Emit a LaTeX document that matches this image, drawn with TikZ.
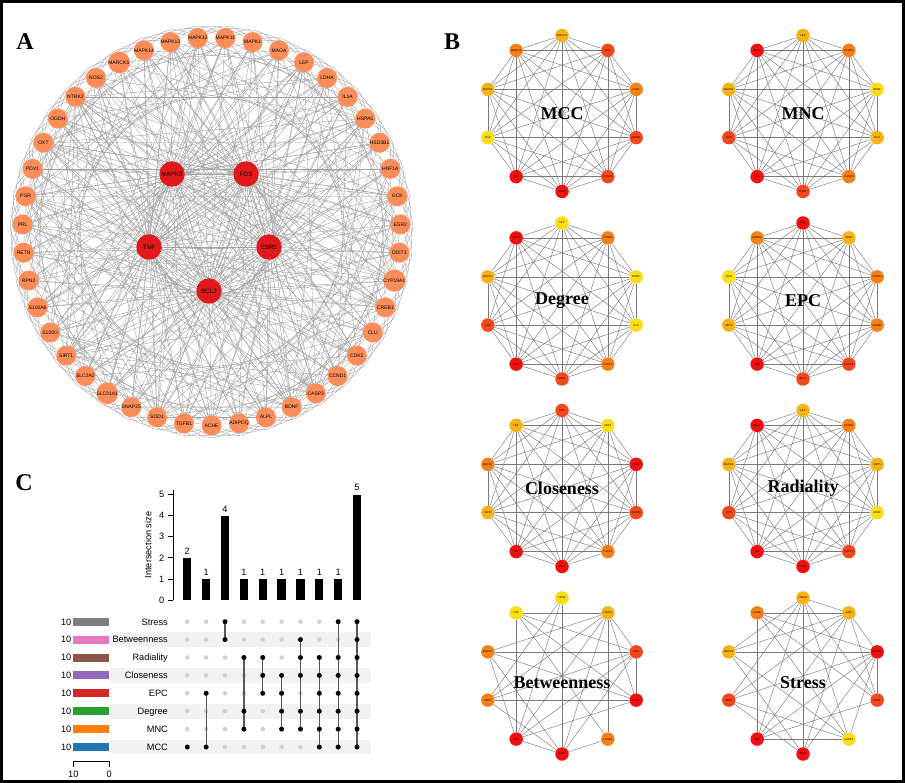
\documentclass[tikz,border=0pt]{standalone}
\usepackage{fontspec}
\setmainfont{Liberation Serif}
\setsansfont{Liberation Sans}
\usetikzlibrary{backgrounds}

\definecolor{geneorange}{RGB}{252,141,89}
\definecolor{hubred}{RGB}{224,26,28}
\definecolor{rankA}{RGB}{240,16,16}
\definecolor{rankB}{RGB}{242,72,28}
\definecolor{rankC}{RGB}{245,128,24}
\definecolor{rankD}{RGB}{247,178,22}
\definecolor{rankE}{RGB}{250,222,20}
\definecolor{tabblue}{RGB}{31,119,180}
\definecolor{taborange}{RGB}{255,127,14}
\definecolor{tabgreen}{RGB}{44,160,44}
\definecolor{tabred}{RGB}{214,39,40}
\definecolor{tabpurple}{RGB}{148,103,189}
\definecolor{tabbrown}{RGB}{140,86,75}
\definecolor{tabpink}{RGB}{227,119,194}
\definecolor{tabgray}{RGB}{127,127,127}

\begin{document}
\begin{tikzpicture}
[x=1pt,y=-1pt,
  linedecorate/.style={-,line width=0.38pt,draw=black!36},%
  genedecorate/.style={shape=circle,fill=geneorange,minimum size=20pt,inner sep=0pt,font=\sffamily\fontsize{5}{5}\selectfont},%
  hubdecorate/.style={shape=circle,fill=hubred,minimum size=25.5pt,inner sep=0pt,font=\sffamily\fontsize{6.3}{6.3}\selectfont},%
  rankdecorate/.style={shape=circle,minimum size=13.5pt,inner sep=0pt,font=\sffamily\fontsize{2.7}{2.7}\selectfont},%
  ranklinedecorate/.style={-,line width=0.45pt,draw=black!52},%
  ranktitle/.style={font=\bfseries\fontsize{18}{18}\selectfont},%
  panellabel/.style={font=\bfseries\fontsize{24}{24}\selectfont},%
  upsettext/.style={font=\sffamily\fontsize{9.2}{9.2}\selectfont,inner sep=1.5pt},%
  dotdecorate/.style={shape=circle,fill=black!18,minimum size=4.6pt,inner sep=0pt},%
  memberdecorate/.style={shape=circle,fill=black,minimum size=5pt,inner sep=0pt},%
  combline/.style={-,line width=1.3pt,draw=black!65}]
\useasboundingbox (0,0) rectangle (905,783);
\begin{scope}[on background layer]
  \fill[white] (0,0) rectangle (905,783);
\end{scope}

%% panel letters
\node (labelA) at (25,42) [panellabel] {A};
\node (labelB) at (452,42) [panellabel] {B};
\node (labelC) at (24,483) [panellabel] {C};

%% ---------------- panel A: the whole network ----------------
%% outer ring, alphabetical, starting at the bottom
\foreach \gene [count=\k from 0] in {ACHE,ADIPOQ,ALPL,BDNF,CASP3,CCND1,CDK2,CLU,CREB1,CYP19A1,DDIT3,ESR2,GCK,HNF1A,HSD3B1,HSPA5,IL1A,LDHA,LEP,MAOA,MAPK1,MAPK11,MAPK12,MAPK13,MAPK14,MARCKS,NOS2,NTRK2,OGDH,OXT,PDX1,PGR,PRL,RETN,RPN2,S100A6,S100G,SIRT1,SLC2A2,SLC31A1,SNAP25,SOD1,TGFB1}
{
  \pgfmathsetmacro{\ang}{-90+\k*360/43}
  \node (g\k) at ({211.5+189*cos(\ang)},{231.5-194*sin(\ang)}) [genedecorate] {\gene};
}
%% hub genes
\foreach \nodename/\x/\y in {MAPK3/172/174, FOS/246/174, TNF/149/247, ESR1/269/247, BCL2/209/291} {
  \node (\nodename) at (\x,\y) [hubdecorate] {\nodename};
}
%% edges
\begin{scope}[on background layer]
\foreach \hub in {MAPK3,FOS,TNF,ESR1,BCL2} {
  \foreach \k in {0,...,42} {
    \draw[linedecorate] (\hub) -- (g\k);
  }
}
\foreach \startnode/\endnode in {MAPK3/FOS, MAPK3/TNF, MAPK3/ESR1, MAPK3/BCL2, FOS/TNF, FOS/ESR1, FOS/BCL2, TNF/ESR1, TNF/BCL2, ESR1/BCL2} {
  \draw[linedecorate] (\startnode) -- (\endnode);
}
\foreach \k in {0,...,42} {
  \foreach \s in {6,11,17} {
    \pgfmathtruncatemacro{\j}{mod(\k+\s,43)}
    \draw[linedecorate] (g\k) -- (g\j);
  }
  \pgfmathtruncatemacro{\j}{mod(\k+2,43)}
  \draw[linedecorate] (g\k) to[bend right=40] (g\j);
  \pgfmathtruncatemacro{\j}{mod(\k+3,43)}
  \draw[linedecorate] (g\k) to[bend right=32] (g\j);
}
\foreach \k in {3,4,9,15,27,29,31,37,41} {
  \foreach \s in {2,4,9,14,20,24,28,33} {
    \pgfmathtruncatemacro{\j}{mod(\k+\s,43)}
    \draw[linedecorate] (g\k) -- (g\j);
  }
}
\end{scope}

%% ---------------- panel B: top ten of each method ----------------
%% order of the ring: top, then anticlockwise
\foreach \net/\cx/\cy/\title/\genes in {
mcc/562/113.5/MCC/{MAPK13/rankD,MAPK14/rankC,MAPK3/rankD,PGR/rankE,TNF/rankA,BCL2/rankA,CASP3/rankB,CREB1/rankB,ESR1/rankC,FOS/rankB},
mnc/803/113.5/MNC/{LEP/rankD,BCL2/rankA,MAPK3/rankD,FOS/rankB,TNF/rankA,ESR1/rankB,CASP3/rankC,CLU/rankD,BDNF/rankE,CCND1/rankC},
deg/562/301/Degree/{LEP/rankE,BCL2/rankA,MAPK3/rankD,FOS/rankB,TNF/rankA,ESR1/rankB,CASP3/rankC,CLU/rankE,BDNF/rankE,CCND1/rankC},
epc/803/301/EPC/{FOS/rankA,MAPK3/rankC,PGR/rankE,SIRT1/rankD,TNF/rankA,BCL2/rankB,CASP3/rankB,CREB1/rankC,CCND1/rankC,CDK2/rankD},
clo/562/488.5/Closeness/{FOS/rankB,LEP/rankD,MAPK3/rankC,SIRT1/rankD,TNF/rankA,BCL2/rankA,CASP3/rankC,CREB1/rankB,ESR1/rankA,CDK2/rankE},
rad/803/488.5/Radiality/{LEP/rankD,BCL2/rankA,MAPK3/rankD,FOS/rankB,TNF/rankA,ESR1/rankA,CASP3/rankB,BDNF/rankE,SIRT1/rankD,CCND1/rankC}}
{
  \foreach \gene/\shade [count=\i from 0] in \genes {
    \node (\net\i) at ({\cx+78*cos(90+36*\i)},{\cy-78*sin(90+36*\i)}) [rankdecorate,fill=\shade] {\gene};
  }
  \node (\net-title) at (\cx,\cy) [ranktitle] {\title};
  \begin{scope}[on background layer]
  \foreach \i in {0,...,8} {
    \pgfmathtruncatemacro{\inext}{\i+1}
    \foreach \j in {\inext,...,9} {
      \draw[ranklinedecorate] (\net\i) -- (\net\j);
    }
  }
  \end{scope}
}
%% the two sparser ones
\foreach \net/\cx/\cy/\title/\genes/\edges in {
bet/562/676/Betweenness/{LDHA/rankE,LEP/rankE,MAPK3/rankC,SIRT1/rankC,TNF/rankA,BCL2/rankA,CCND1/rankC,ESR1/rankA,FOS/rankB,HSPA5/rankD}/{0/5,0/3,0/4,1/9,1/4,1/7,1/8,1/6,2/8,2/9,2/4,2/5,2/7,3/9,3/5,3/8,3/7,4/9,4/7,4/8,4/5,5/9,5/8,5/6,6/9,7/8,7/9,8/9},
str/803/676/Stress/{HSPA5/rankD,LDHA/rankC,MAPK3/rankD,SIRT1/rankB,TNF/rankA,BCL2/rankA,CASP3/rankE,ESR1/rankB,CREB1/rankA,GCK/rankD}/{0/5,0/2,0/3,0/4,0/6,0/7,0/9,1/4,1/9,1/6,1/7,1/8,2/8,2/9,2/6,2/5,3/8,3/9,3/6,3/5,4/9,4/8,4/7,4/6,5/8,5/9,6/8,7/8,7/9,8/9}}
{
  \foreach \gene/\shade [count=\i from 0] in \genes {
    \node (\net\i) at ({\cx+78*cos(90+36*\i)},{\cy-78*sin(90+36*\i)}) [rankdecorate,fill=\shade] {\gene};
  }
  \node (\net-title) at (\cx,\cy+7) [ranktitle] {\title};
  \begin{scope}[on background layer]
  \foreach \startnode/\endnode in \edges {
    \draw[ranklinedecorate] (\net\startnode) -- (\net\endnode);
  }
  \end{scope}
}

%% ---------------- panel C: upset plot ----------------
%% intersection bars
\draw[line width=0.8pt] (173.3,490) -- (173.3,600);
\foreach \v in {0,...,5} {
  \draw[line width=0.8pt] (167.5,{600-21.07*\v}) -- (173.3,{600-21.07*\v});
  \node (tick\v) at (166,{600-21.07*\v}) [anchor=east,upsettext] {\v};
}
\node (ylabel) at (148,545) [rotate=90,upsettext] {Intersection size};
\foreach \k/\v in {1/2,2/1,3/4,4/1,5/1,6/1,7/1,8/1,9/1,10/5} {
  \pgfmathsetmacro{\bx}{187.3+(\k-1)*18.86}
  \fill (\bx-4.15,600) rectangle (\bx+4.15,{600-21.07*\v});
  \node (count\k) at (\bx,{598-21.07*\v}) [anchor=south,upsettext] {\v};
}
%% set rows
\foreach \setname/\shade [count=\row] in {Stress/tabgray,Betweenness/tabpink,Radiality/tabbrown,Closeness/tabpurple,EPC/tabred,Degree/tabgreen,MNC/taborange,MCC/tabblue}
{
  \pgfmathsetmacro{\ry}{621.7+(\row-1)*17.9}
  \ifodd\row\else
    \fill[black!5] (110,\ry-7.4) rectangle (370.7,\ry+7.4);
  \fi
  \fill[\shade] (73.3,\ry-4) rectangle (109.3,\ry+4);
  \node (size\row) at (73,\ry+3.3) [anchor=base east,upsettext] {10};
  \node (set\row) at (169.5,\ry+3.3) [anchor=base east,upsettext] {\setname};
  \foreach \k in {1,...,10} {
    \node (d\k-\row) at ({187.3+(\k-1)*18.86},\ry) [dotdecorate] {};
  }
}
%% memberships
\foreach \k/\toprow/\botrow/\members in {1/8/8/{8},2/5/8/{5,8},3/1/2/{1,2},4/3/7/{3,6,7},5/3/5/{3,4,5},6/4/7/{4,5,6,7},7/2/7/{2,3,4,6,7},8/3/8/{3,4,5,6,7,8},9/1/8/{1,3,4,5,6,7,8},10/1/8/{1,2,3,4,5,6,7,8}}
{
  \draw[combline] (d\k-\toprow.center) -- (d\k-\botrow.center);
  \foreach \m in \members {
    \node (m\k-\m) at (d\k-\m) [memberdecorate] {};
  }
}
%% set size axis
\draw[line width=0.8pt] (73.3,766.5) -- (73.3,761) -- (109.3,761) -- (109.3,766.5);
\node (sizeten) at (73.3,774) [upsettext] {10};
\node (sizezero) at (109.3,774) [upsettext] {0};

%% frame
\draw[line width=3pt] (1.5,1.5) rectangle (903.5,781.5);
\end{tikzpicture}
\end{document}
